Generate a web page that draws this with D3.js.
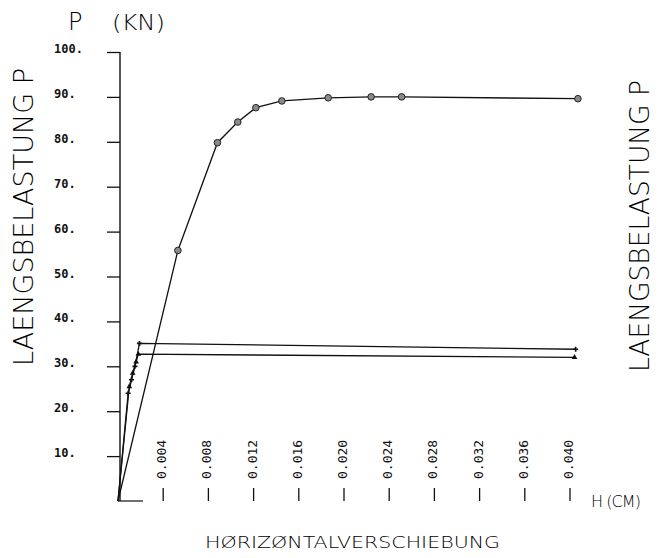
<!DOCTYPE html>
<html><head><meta charset="utf-8">
<script src="https://cdn.jsdelivr.net/npm/d3@7"></script>
<style>html,body{margin:0;padding:0;background:#fff;}svg{display:block;}</style>
</head><body>
<svg id="c" width="666" height="558"></svg>
<script>
// Data
const yTickValues = [10, 20, 30, 40, 50, 60, 70, 80, 90, 100];
const yTickLabels = ["10.", "20.", "30.", "40.", "50.", "60.", "70.", "80.", "90.", "100."];
const xTickValues = [0.004, 0.008, 0.012, 0.016, 0.020, 0.024, 0.028, 0.032, 0.036, 0.040];
const xTickLabels = ["0.004", "0.008", "0.012", "0.016", "0.020", "0.024", "0.028", "0.032", "0.036", "0.040"];

const circH = [0, 0.0053, 0.0088, 0.0106, 0.0122, 0.0145, 0.0186, 0.0224, 0.0251, 0.0407];
const circP = [0, 55.8, 79.8, 84.4, 87.6, 89.1, 89.8, 90.0, 90.0, 89.6];
const circMarked = [false, true, true, true, true, true, true, true, true, true];

const plusH = [0, 0.0009, 0.0012, 0.0015, 0.0019, 0.0405];
const plusP = [0, 24.0, 27.0, 30.0, 35.1, 33.8];

const triH = [0, 0.0010, 0.0013, 0.0016, 0.0018, 0.0404];
const triP = [0, 25.5, 28.5, 31.0, 32.7, 32.0];

const svg = d3.select("#c");
const x = d3.scaleLinear().domain([0, 0.040]).range([118, 570]);
const y = d3.scaleLinear().domain([0, 100]).range([501, 52]);
const ink = "#111";

// y axis
const yAxis = d3.axisLeft(y).tickValues(yTickValues).tickSize(13).tickFormat("");
const ga = svg.append("g").attr("transform", "translate(120,0)").call(yAxis);
ga.select(".domain").attr("d", `M0,${y(100)}V${y(0)}`).attr("stroke", ink).attr("stroke-width", 1.4);
ga.selectAll(".tick line").attr("stroke", ink).attr("stroke-width", 1.3);
svg.append("g").selectAll("text").data(yTickValues).join("text")
  .attr("x", 54).attr("y", d => y(d) + 1)
  .attr("font-family", "DejaVu Sans Mono").attr("font-weight", "bold").attr("font-size", 12)
  .attr("fill", ink).text((d, i) => yTickLabels[i]);

// x ticks (no axis line)
const gx = svg.append("g");
gx.selectAll("line").data(xTickValues).join("line")
  .attr("x1", d => x(d)).attr("x2", d => x(d)).attr("y1", 488).attr("y2", 501)
  .attr("stroke", ink).attr("stroke-width", 1.3);
gx.selectAll("text").data(xTickValues).join("text")
  .attr("transform", d => `translate(${x(d) + 3},479) rotate(-90)`)
  .attr("font-family", "DejaVu Sans Mono").attr("font-size", 13).attr("fill", ink)
  .text((d, i) => xTickLabels[i]);
svg.append("line").attr("x1", x(0)).attr("x2", x(0) + 25).attr("y1", y(0)).attr("y2", y(0))
  .attr("stroke", ink).attr("stroke-width", 1.2);

// lines
const line = d3.line().x(d => x(d[0])).y(d => y(d[1]));
function series(H, P) { return H.map((h, i) => [h, P[i]]); }
const sC = series(circH, circP), sP = series(plusH, plusP), sT = series(triH, triP);
[sC, sP, sT].forEach(s => svg.append("path").attr("d", line(s)).attr("fill", "none")
  .attr("stroke", ink).attr("stroke-width", 1.3));

// markers
svg.append("g").selectAll("circle").data(sC.filter((d, i) => circMarked[i])).join("circle")
  .attr("cx", d => x(d[0])).attr("cy", d => y(d[1])).attr("r", 3.3)
  .attr("fill", "#8a8a8a").attr("stroke", "#222").attr("stroke-width", 1);
svg.append("g").selectAll("path").data(sP.slice(1)).join("path")
  .attr("d", d3.symbol(d3.symbolCross, 14)).attr("transform", d => `translate(${x(d[0])},${y(d[1])})`)
  .attr("fill", ink);
svg.append("g").selectAll("path").data(sT.slice(1)).join("path")
  .attr("d", d3.symbol(d3.symbolTriangle, 14)).attr("transform", d => `translate(${x(d[0])},${y(d[1])})`)
  .attr("fill", ink);

// titles
const tfont = "DejaVu Sans";
const tw = 200, tc = "#000";
svg.append("text").attr("x", 68).attr("y", 30).attr("font-family", tfont).attr("font-size", 24)
  .attr("font-weight", tw).attr("fill", tc).text("P");
svg.append("text").attr("x", 112).attr("y", 30).attr("font-family", tfont).attr("font-size", 22)
  .attr("font-weight", tw).attr("fill", tc).attr("textLength", 53).attr("lengthAdjust", "spacingAndGlyphs").text("(KN)");
svg.append("text").attr("transform", "translate(33,366) rotate(-90)").attr("font-family", tfont)
  .attr("font-size", 27).attr("font-weight", tw).attr("fill", tc)
  .attr("textLength", 298).attr("lengthAdjust", "spacingAndGlyphs").text("LAENGSBELASTUNG P");
svg.append("text").attr("transform", "translate(649,372) rotate(-90)").attr("font-family", tfont)
  .attr("font-size", 26).attr("font-weight", tw).attr("fill", tc)
  .attr("textLength", 292).attr("lengthAdjust", "spacingAndGlyphs").text("LAENGSBELASTUNG P");
svg.append("text").attr("x", 591).attr("y", 507).attr("font-family", tfont).attr("font-size", 16)
  .attr("font-weight", tw).attr("fill", tc).attr("textLength", 50).attr("lengthAdjust", "spacing").text("H  (CM)");
svg.append("text").attr("x", 205).attr("y", 548).attr("font-family", tfont).attr("font-size", 16)
  .attr("font-weight", tw).attr("fill", tc).attr("textLength", 295).attr("lengthAdjust", "spacingAndGlyphs")
  .text("HØRIZØNTALVERSCHIEBUNG");
</script>
</body></html>
